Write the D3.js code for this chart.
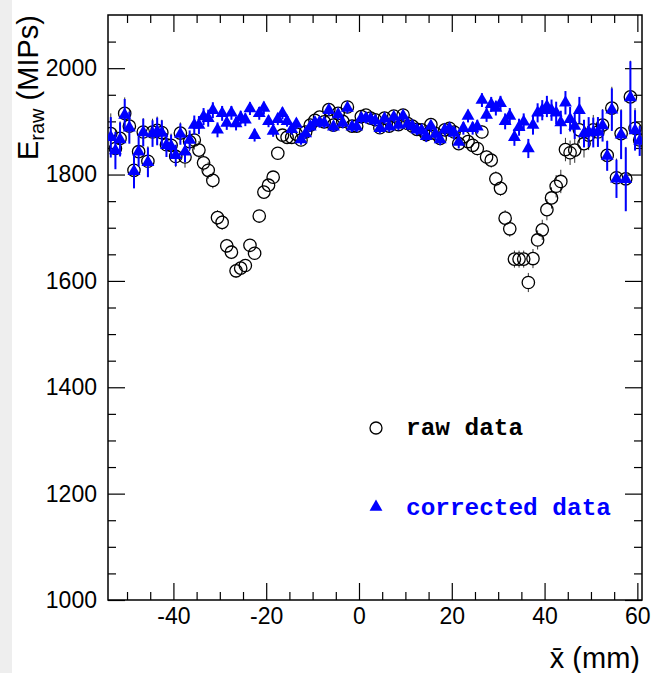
<!DOCTYPE html>
<html>
<head>
  <meta charset="UTF-8">
  <style>
    body { margin: 0; background: #fff; }
    svg { display: block; font-family: "Liberation Sans", Arial, Helvetica, sans-serif; }
  </style>
</head>
<body>
<div id="content"><svg></svg></div>
<script src="https://d3js.org/d3.v7.min.js"></script>
<script>
// x position of each bin (mm)
const xs = [
  -53.5,-52.5,-51.5,-50.5,-49.5,-48.5,-47.5,-46.5,-45.5,-44.5,
  -43.5,-42.5,-41.5,-40.5,-39.5,-38.5,-37.5,-36.5,-35.5,-34.5,
  -33.5,-32.5,-31.5,-30.5,-29.5,-28.5,-27.5,-26.5,-25.5,-24.5,
  -23.5,-22.5,-21.5,-20.5,-19.5,-18.5,-17.5,-16.5,-15.5,-14.5,
  -13.5,-12.5,-11.5,-10.5,-9.5,-8.5,-7.5,-6.5,-5.5,-4.5,
  -3.5,-2.5,-1.5,-0.5,0.5,1.5,2.5,3.5,4.5,5.5,
  6.5,7.5,8.5,9.5,10.5,11.5,12.5,13.5,14.5,15.5,
  16.5,17.5,18.5,19.5,20.5,21.5,22.5,23.5,24.5,25.5,
  26.5,27.5,28.5,29.5,30.5,31.5,32.5,33.5,34.5,35.5,
  36.5,37.5,38.5,39.5,40.5,41.5,42.5,43.5,44.5,45.5,
  46.5,47.5,48.5,49.5,50.5,51.5,52.5,53.5,54.5,55.5,
  56.5,57.5,58.5,59.5,60.5
];

// raw data (MIPs)
const rawE = [
  1877,1849,1868,1915,1891,1808,1843,1880,1825,1880,
  1883,1879,1856,1855,1834,1878,1833,1862,1865,1846,
  1822,1808,1789,1719,1710,1666,1654,1619,1624,1629,
  1667,1652,1722,1767,1780,1795,1840,1874,1870,1870,
  1876,1865,1880,1893,1902,1908,1899,1922,1893,1915,
  1900,1927,1891,1891,1909,1912,1906,1903,1888,1906,
  1891,1910,1894,1912,1896,1891,1885,1884,1875,1894,
  1877,1868,1884,1887,1880,1858,1871,1862,1855,1849,
  1880,1833,1827,1792,1774,1718,1698,1641,1641,1641,
  1597,1642,1677,1696,1734,1756,1778,1787,1847,1841,
  1846,1884,1858,1874,1884,1880,1893,1836,1925,1794,
  1877,1792,1946,1887,1865
];

// corrected data (MIPs)
const corE = [
  1870,1845,1866,1912,1888,1806,1843,1879,1823,1877,
  1881,1878,1855,1853,1836,1876,1843,1865,1893,1893,
  1909,1906,1921,1884,1915,1897,1916,1896,1907,1903,
  1924,1874,1915,1925,1900,1882,1904,1915,1900,1885,
  1895,1866,1877,1890,1898,1898,1897,1921,1890,1913,
  1897,1925,1890,1890,1906,1906,1905,1901,1887,1905,
  1890,1908,1893,1910,1895,1891,1884,1883,1872,1891,
  1876,1866,1884,1886,1878,1861,1887,1910,1887,1890,
  1940,1912,1932,1925,1934,1900,1910,1870,1889,1899,
  1849,1893,1916,1921,1928,1921,1916,1898,1935,1904,
  1891,1921,1877,1880,1879,1880,1892,1835,1922,1792,
  1875,1791,1945,1883,1863
];

// statistical error per bin (MIPs)
const errE = [
  38,35,32,30,30,32,28,26,28,25,
  26,24,22,22,20,20,20,18,18,17,
  16,16,15,14,14,13,13,13,13,12,
  12,12,12,12,11,11,11,11,10,10,
  10,10,10,10,10,10,10,10,10,10,
  10,10,10,10,10,10,10,10,10,10,
  10,10,10,10,10,10,10,10,11,11,
  11,11,11,11,12,12,12,12,12,13,
  13,13,14,14,14,15,15,16,16,16,
  18,18,18,19,20,20,21,22,22,23,
  24,25,26,28,28,28,30,28,40,36,
  46,60,68,38,28
];

const xMajor = [-40, -20, 0, 20, 40, 60];
const xMinor = [-50,-45,-35,-30,-25,-15,-10,-5,5,10,15,25,30,35,45,50,55];
const yMajor = [1000, 1200, 1400, 1600, 1800, 2000];
const yMinor = [1050,1100,1150,1250,1300,1350,1450,1500,1550,1650,1700,1750,1850,1900,1950,2050];
const legendItems = ["raw data", "corrected data"];

let width = 651, height = 673;
let pl = 108, pr = 642, pt = 15, pb = 600;

let svg = d3.select("svg")
  .attr("width", width)
  .attr("height", height);

svg.append("rect").attr("width", width).attr("height", height).attr("fill", "#fff");
svg.append("rect").attr("width", 12).attr("height", height).attr("fill", "#eeeeee");

let x = d3.scaleLinear().domain([-54.1, 61]).range([pl, pr]);
let y = d3.scaleLinear().domain([1000, 2100]).range([pb, pt]);

svg.append("clipPath").attr("id", "plotclip")
  .append("rect").attr("x", pl).attr("y", pt)
  .attr("width", pr - pl).attr("height", pb - pt);

// axes (ROOT style: ticks inside on all four sides)
function axisStyle(g) {
  g.select(".domain").remove();
  g.selectAll(".tick line").attr("stroke", "#000").attr("stroke-width", 1.2);
}
function labelStyle(g) {
  g.attr("font-family", "'Liberation Sans', Arial, sans-serif").attr("font-size", 23);
  g.selectAll("text").attr("fill", "#000");
}

svg.append("g").attr("transform", `translate(0,${pb})`)
  .call(d3.axisBottom(x).tickValues(xMajor).tickSize(-17).tickPadding(8).tickFormat(d => String(d)))
  .call(axisStyle)
  .call(labelStyle);
svg.append("g").attr("transform", `translate(0,${pb})`)
  .call(d3.axisBottom(x).tickValues(xMinor).tickSize(-8).tickFormat(""))
  .call(axisStyle);
svg.append("g").attr("transform", `translate(0,${pt})`)
  .call(d3.axisTop(x).tickValues(xMajor).tickSize(-17).tickFormat(""))
  .call(axisStyle);
svg.append("g").attr("transform", `translate(0,${pt})`)
  .call(d3.axisTop(x).tickValues(xMinor).tickSize(-8).tickFormat(""))
  .call(axisStyle);

svg.append("g").attr("transform", `translate(${pl},0)`)
  .call(d3.axisLeft(y).tickValues(yMajor).tickSize(-17).tickPadding(11).tickFormat(d => String(d)))
  .call(axisStyle)
  .call(labelStyle);
svg.append("g").attr("transform", `translate(${pl},0)`)
  .call(d3.axisLeft(y).tickValues(yMinor).tickSize(-8).tickFormat(""))
  .call(axisStyle);
svg.append("g").attr("transform", `translate(${pr},0)`)
  .call(d3.axisRight(y).tickValues(yMajor).tickSize(-17).tickFormat(""))
  .call(axisStyle);
svg.append("g").attr("transform", `translate(${pr},0)`)
  .call(d3.axisRight(y).tickValues(yMinor).tickSize(-8).tickFormat(""))
  .call(axisStyle);

// frame
svg.append("rect")
  .attr("x", pl).attr("y", pt)
  .attr("width", pr - pl).attr("height", pb - pt)
  .attr("fill", "none").attr("stroke", "#000").attr("stroke-width", 1.5);

let rawData = xs.map((v, i) => ({x: v, e: rawE[i], err: errE[i]}));
let corData = xs.map((v, i) => ({x: v, e: corE[i], err: errE[i]}));

let plot = svg.append("g").attr("clip-path", "url(#plotclip)");
let r = 6.2;

// raw error bars, drawn outside the hollow marker
let rawBars = plot.append("g").attr("stroke", "#333").attr("stroke-width", 1);
rawData.forEach(d => {
  let cx = x(d.x), cy = y(d.e);
  let up = y(d.e + d.err), dn = y(d.e - d.err);
  if (cy - up > r) rawBars.append("line").attr("x1", cx).attr("x2", cx).attr("y1", up).attr("y2", cy - r);
  if (dn - cy > r) rawBars.append("line").attr("x1", cx).attr("x2", cx).attr("y1", cy + r).attr("y2", dn);
});

plot.append("g").selectAll("circle")
  .data(rawData)
  .enter()
  .append("circle")
  .attr("cx", d => x(d.x))
  .attr("cy", d => y(d.e))
  .attr("r", r)
  .attr("fill", "none")
  .attr("stroke", "#000")
  .attr("stroke-width", 1.3);

plot.append("g").selectAll("line")
  .data(corData)
  .enter()
  .append("line")
  .attr("x1", d => x(d.x)).attr("x2", d => x(d.x))
  .attr("y1", d => y(d.e + d.err)).attr("y2", d => y(d.e - d.err))
  .attr("stroke", "#0000ff")
  .attr("stroke-width", 2);

let tri = d3.symbol().type(d3.symbolTriangle).size(72);
plot.append("g").selectAll("path")
  .data(corData)
  .enter()
  .append("path")
  .attr("d", tri)
  .attr("transform", d => `translate(${x(d.x)},${y(d.e)})`)
  .attr("fill", "#0000ff");

// legend
let legend = svg.append("g");
legend.append("circle").attr("cx", 376).attr("cy", 428).attr("r", 6)
  .attr("fill", "none").attr("stroke", "#000").attr("stroke-width", 1.3);
legend.append("path").attr("d", tri).attr("transform", "translate(376,507)").attr("fill", "#0000ff");
legend.selectAll("text.leg")
  .data(legendItems)
  .enter()
  .append("text")
  .attr("class", "leg")
  .attr("x", 406)
  .attr("y", (d, i) => 435 + i * 80)
  .style("font-family", "'Liberation Mono', 'Courier New', monospace")
  .style("font-weight", "bold")
  .style("font-size", "24.4px")
  .attr("fill", (d, i) => i == 0 ? "#000" : "#0000ff")
  .text(d => d);

// axis titles
let ytitle = svg.append("text")
  .attr("transform", "translate(38,15) rotate(-90)")
  .attr("text-anchor", "end")
  .attr("font-size", 29);
ytitle.append("tspan").text("E");
ytitle.append("tspan").attr("font-size", 20).attr("dy", 6).text("raw");
ytitle.append("tspan").attr("dy", -6).text(" (MIPs)");

svg.append("text")
  .attr("x", 640).attr("y", 668)
  .attr("text-anchor", "end")
  .attr("font-size", 29)
  .text("x\u0304 (mm)");
</script>
</body>
</html>
